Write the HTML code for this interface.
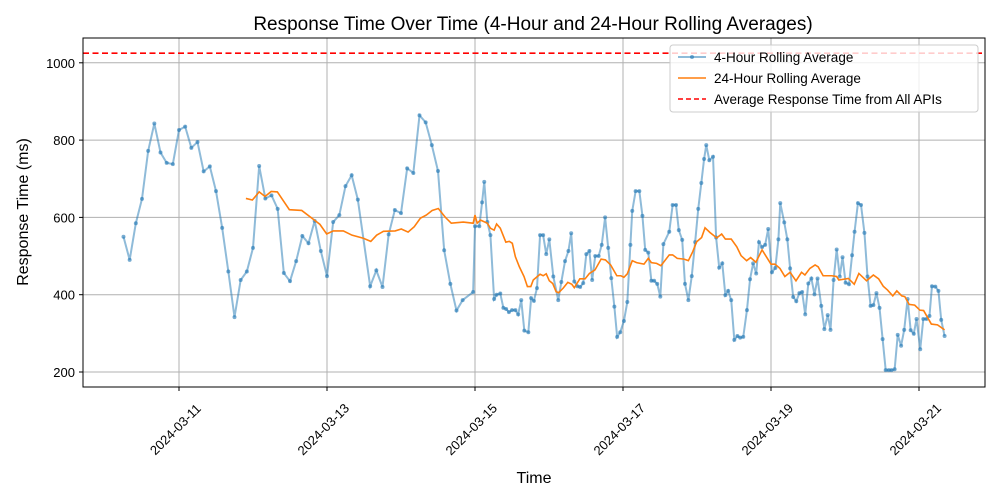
<!DOCTYPE html>
<html><head><meta charset="utf-8"><style>
body{margin:0;background:#fff;}
svg{display:block;font-family:"Liberation Sans","DejaVu Sans",sans-serif;}
</style></head><body>
<svg id="chart" width="1000" height="500">
<rect width="1000" height="500" fill="#fff"/>
<text x="533" y="30" text-anchor="middle" font-size="19" fill="#000">Response Time Over Time (4-Hour and 24-Hour Rolling Averages)</text>
<text transform="translate(28,212) rotate(-90)" text-anchor="middle" font-size="16" fill="#000">Response Time (ms)</text>
<text x="534" y="483" text-anchor="middle" font-size="16" fill="#000">Time</text>
<g id="grid"></g>
<g id="series"></g>
<rect x="83" y="38" width="902" height="349" fill="none" stroke="#000" stroke-width="1"/>
<g id="ticks"></g>
<g>
<rect x="670" y="45" width="308" height="67" rx="3" fill="#fff" fill-opacity="0.8" stroke="#ccc"/>
<g><line x1="678" y1="57" x2="706" y2="57" stroke="#1f77b4" stroke-opacity="0.5" stroke-width="2"/><circle cx="692" cy="57" r="2" fill="#1f77b4" fill-opacity="0.6"/><text x="714" y="62" font-size="13.5">4-Hour Rolling Average</text></g>
<g><line x1="678" y1="78" x2="706" y2="78" stroke="#ff7f0e" stroke-width="1.6"/><text x="714" y="83" font-size="13.5">24-Hour Rolling Average</text></g>
<g><line x1="678" y1="99" x2="706" y2="99" stroke="#ff0000" stroke-width="1.6" stroke-dasharray="5,3"/><text x="714" y="104" font-size="13.5">Average Response Time from All APIs</text></g>
</g>
</svg>
<script>
// hours since 2024-03-10 00:00
const tTimes=[6,8,10,12,14,16,18,20,22,24,26,28,30,32,34,36,38,40,42,44,46,48,50,52,54,56,58,60,62,64,66,68,70,72,74,76,78,80,82,86,88,90,92,94,96,98,100,102,104,106,108,110,112,114,116,119.4,120,121.4,122.3,123,124,125,126.2,127,128.2,129.2,130.1,131,132,133.1,134,135,136,137.3,138.2,139.1,140.1,141.1,142.1,143.1,144.1,145.4,147,148,149.2,150.3,151.2,152.2,153.2,154.1,155.1,156.1,157.1,158,159,160.1,161.1,162.2,163.2,164.2,165.2,166.1,167.1,168.3,169.4,170.4,171,172.1,173.3,174.3,175.2,176.2,177.2,178.1,179.1,180.1,181.1,183,184.1,185.2,186.1,187.2,188.1,189.2,190.3,191.4,192.4,193.4,194.3,195,196,197.2,198.2,199.2,200.2,201.2,202.1,203.1,204.1,205.1,206,207,208.2,209.2,210.2,211.2,212.1,213.1,214.1,215.1,216.3,217.4,218.4,219,220.3,221.3,222.2,223.2,224.2,225.2,226.1,227.1,228.1,229.1,230.1,231.1,232.3,233.3,234.4,235.3,236.3,237.3,238.3,239.2,240.2,241.3,242.3,243.1,244.2,245.2,246.3,247.3,248.3,249.2,250.2,251.2,252.2,253.2,254.2,255.1,256.1,257.1,258.2,259.2,260.3,261.3,262.3,263.2,264.4,265.4,266.4,267.4,268.2,269.3,270.3,271.2,272.3];
const avg4h=[550,490,585,648,772,843,768,741,738,826,835,780,795,719,732,668,573,460,342,438,460,521,733,649,657,622,456,435,487,552,533,591,513,448,588,606,681,709,646,422,463,420,556,619,611,727,715,864,846,787,720,515,428,359,386,407,577,577,639,692,588,554,389,400,403,366,363,355,360,360,349,386,307,303,391,384,417,554,554,505,543,447,386,433,487,513,559,434,422,420,430,505,513,438,500,500,529,600,521,443,369,291,303,332,381,529,617,668,668,604,516,509,436,436,428,395,531,563,632,632,567,542,428,386,448,536,622,689,751,787,748,757,548,470,481,399,410,386,283,293,289,291,360,440,481,455,536,523,529,570,458,469,543,637,587,543,468,394,383,404,407,349,429,442,401,442,371,311,347,309,438,517,447,497,431,427,502,563,637,632,560,447,371,373,404,366,285,205,205,205,207,296,268,309,389,308,299,337,259,337,337,345,422,421,410,335,293];
const t24Times=[45.7,47.8,50,51.9,53.9,55.9,59.8,63.8,67.6,69.7,71.9,74,77.3,80.1,83.8,86.2,88.1,90.3,94.1,96.1,98.3,100.3,102.3,104.2,106.1,108.1,110.4,112.3,116.2,119.4,120,120.7,121.8,124,125,126.2,127,128.2,130,131.1,132.1,133.1,134.4,135.9,137,138.1,138.9,141.1,142.1,143.1,144.1,145.2,146.3,147.1,148.6,150.1,151.4,152.2,154,155.7,157.1,158.9,160.9,162.3,164,166,167.3,168.3,169.4,171,172.4,174.8,176.2,177.2,178.9,180.3,183,184.1,185.6,187.8,189.2,190.6,191.9,193.5,194.6,196.2,198.4,200,201.2,203.1,204.9,206.3,208.1,209.4,211.1,213.1,216,217.3,218.9,220.5,222.2,224.1,225.9,227,228.6,230.3,231.3,232.9,235.7,237.3,238,241.1,243,244.5,247,249.2,250.9,252.4,253.8,255.5,256.8,258.4,259.4,260.8,262.6,264.3,265.5,268,270,272.3];
const avg24h=[649,645,666,654,667,666,620,618,595,582,557,565,565,554,546,538,554,564,565,570,562,576,598,606,618,623,600,585,588,585,606,585,593,585,572,567,583,572,536,538,533,498,472,447,421,421,438,453,449,454,436,429,408,405,417,432,427,418,441,441,455,464,492,490,477,449,449,445,454,488,483,479,494,483,481,475,503,503,494,492,488,511,537,548,573,561,547,557,544,544,524,501,488,496,484,516,479,479,468,447,458,436,458,451,468,477,472,449,449,447,438,442,427,455,436,451,441,422,412,397,410,397,395,375,373,360,359,324,322,309];
const overallAvg=[1025];
const yTicks=[200,400,600,800,1000];
const xTickHours=[24,72,120,168,216,264];
const xTickLabels=["2024-03-11","2024-03-13","2024-03-15","2024-03-17","2024-03-19","2024-03-21"];

const NS="http://www.w3.org/2000/svg";
function X(h){return 105+h*74/24;}
function Y(v){return 372-(v-200)*0.3865;}
function mk(tag,attrs,parent){const e=document.createElementNS(NS,tag);for(const k in attrs)e.setAttribute(k,attrs[k]);parent.appendChild(e);return e;}
const grid=document.getElementById('grid'),ticks=document.getElementById('ticks'),series=document.getElementById('series');
yTicks.forEach((v,i)=>{
  const g=mk('line',{x1:83,x2:985,y1:Y(v),y2:Y(v),stroke:'#b0b0b0','stroke-width':1},grid);
  
  
  const t=mk('line',{x1:79,x2:83,y1:Y(v),y2:Y(v),stroke:'#000'},ticks);
  
  
  const l=mk('text',{x:75,y:Y(v)+5,'text-anchor':'end','font-size':13},ticks);
  l.textContent=v;
  
  
});
xTickHours.forEach((h,i)=>{
  const x=X(h);
  const g=mk('line',{x1:x,x2:x,y1:38,y2:387,stroke:'#b0b0b0','stroke-width':1},grid);
  
  
  const t=mk('line',{x1:x,x2:x,y1:387,y2:391,stroke:'#000'},ticks);
  
  
  const l=mk('text',{x:0,y:5,'text-anchor':'middle','font-size':13,transform:`translate(${x-4},${429}) rotate(-45)`},ticks);
  l.textContent=xTickLabels[i];
  
  
});
const red=mk('line',{x1:83,x2:985,y1:Y(overallAvg[0]),y2:Y(overallAvg[0]),stroke:'#ff0000','stroke-width':1.6,'stroke-dasharray':'6,3.5'},series);


const p4=mk('polyline',{points:tTimes.map((h,i)=>X(h)+','+Y(avg4h[i])).join(' '),fill:'none',stroke:'#1f77b4','stroke-opacity':0.5,'stroke-width':2},series);


tTimes.forEach((h,i)=>{
  const c=mk('circle',{cx:X(h),cy:Y(avg4h[i]),r:2,fill:'#1f77b4','fill-opacity':0.6},series);
  
  
});
const p24=mk('polyline',{points:t24Times.map((h,i)=>X(h)+','+Y(avg24h[i])).join(' '),fill:'none',stroke:'#ff7f0e','stroke-width':1.6},series);


</script>
</body></html>
